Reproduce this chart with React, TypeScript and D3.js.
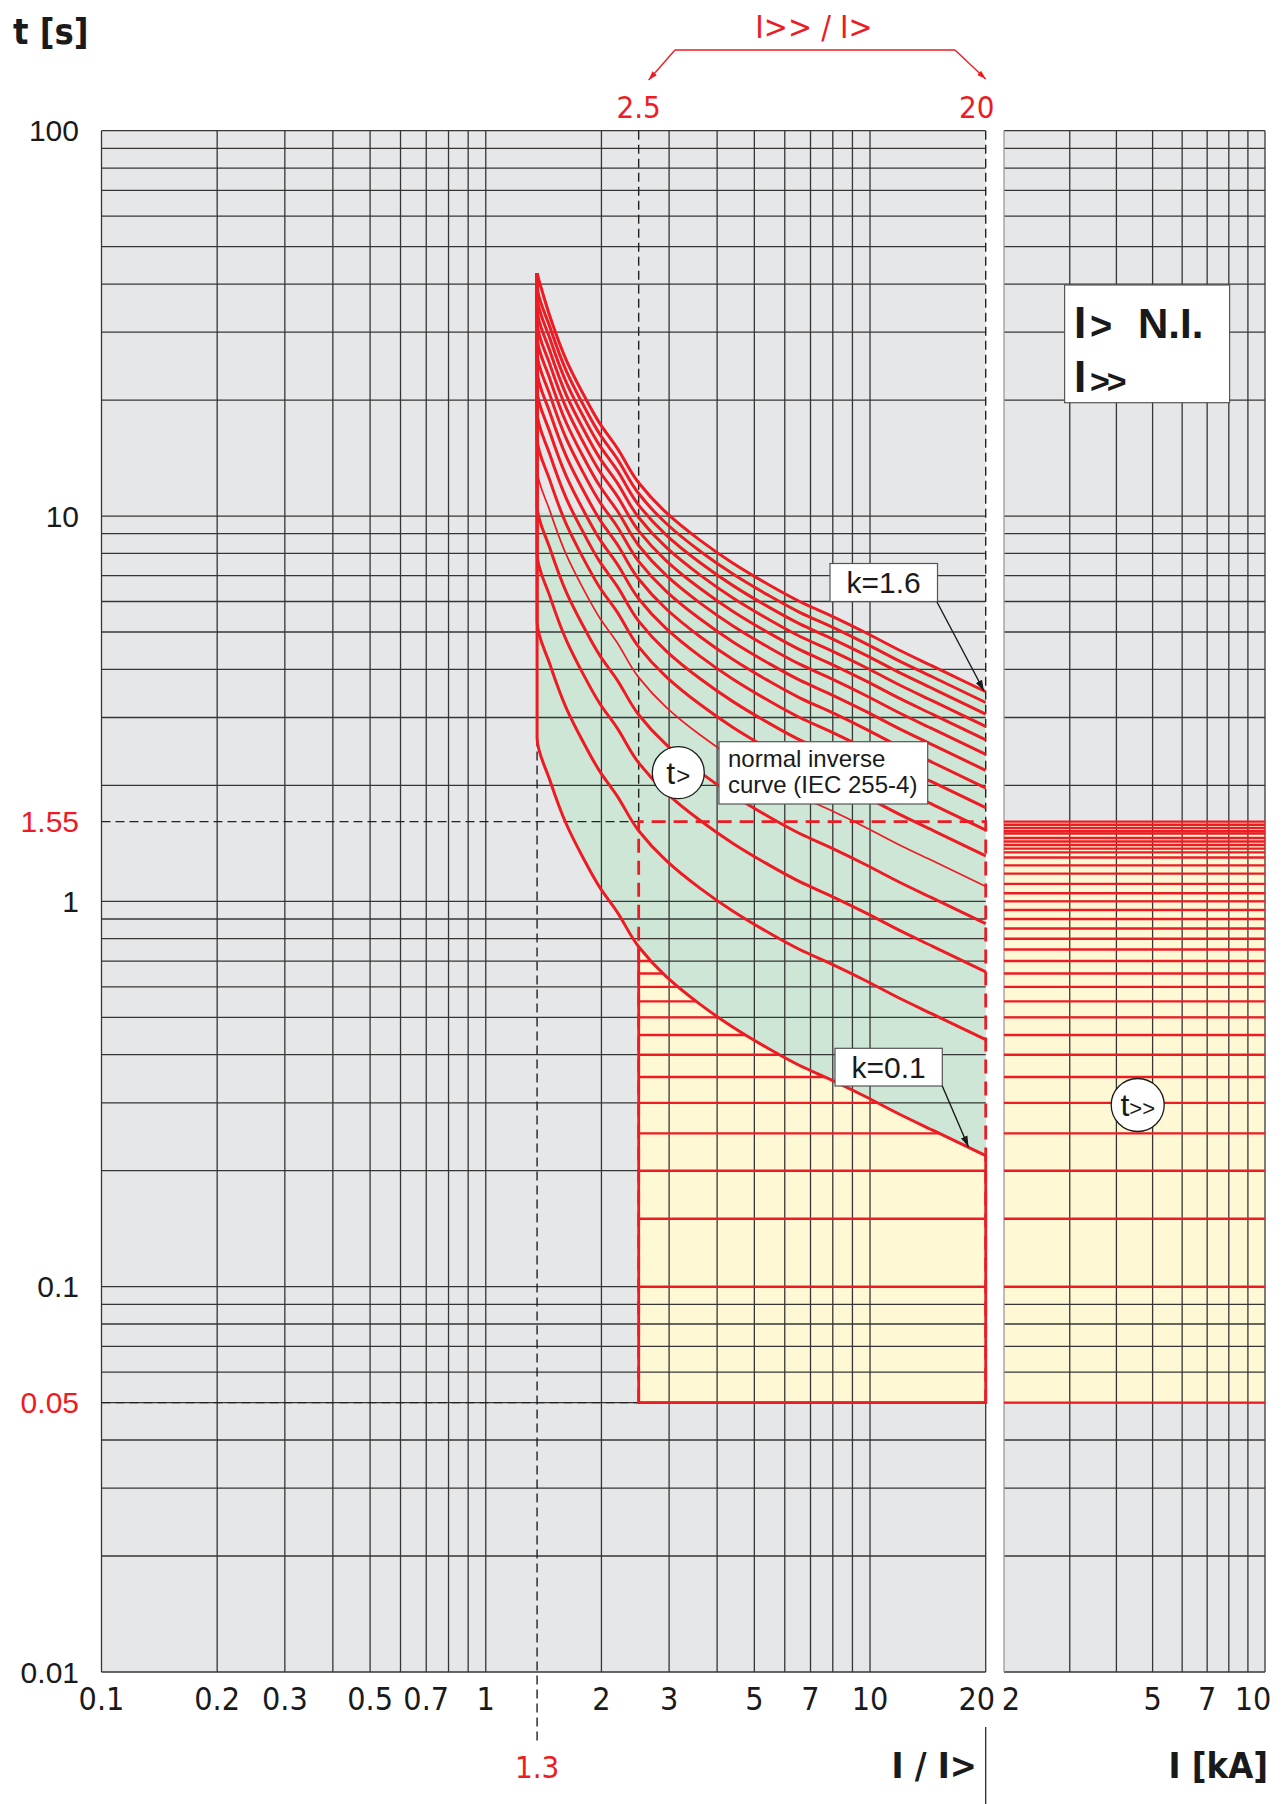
import React from "react";
import * as d3 from "d3";

// ---------- data ----------
const ratioTickValues = [0.1, 0.2, 0.3, 0.5, 0.7, 1, 2, 3, 5, 7, 10, 20];
const ratioTickLabels = ["0.1", "0.2", "0.3", "0.5", "0.7", "1", "2", "3", "5", "7", "10", "20"];
const currentTickValues = [2, 5, 7, 10];
const currentTickLabels = ["2", "5", "7", "10"];
const timeTickValues = [100, 10, 1, 0.1, 0.01];
const timeTickLabels = ["100", "10", "1", "0.1", "0.01"];

// time multiplier settings of the normal inverse curves
const kValues = [0.1, 0.2, 0.3, 0.4, 0.5, 0.6, 0.7, 0.8, 0.9, 1.0, 1.1, 1.2, 1.3, 1.4, 1.5, 1.6];
const kThin = [0.5];
const kTop = 1.6;

// k = 1.6 curve (I/I>, t [s])
const curveRatio = [1.36, 1.47, 1.62, 1.79, 1.98, 2.19, 2.5, 2.95, 3.6, 4.4, 5.37, 6.56, 8.0, 9.78, 11.9, 14.6, 20];
const curveTimeTop = [42.6, 32.9, 25.4, 20.8, 17.4, 15.1, 12.2, 10.2, 8.67, 7.54, 6.69, 6.0, 5.48, 4.97, 4.49, 4.07, 3.5];

// t>> definite time settings (s)
const highTimes = [
  0.05, 0.1, 0.15, 0.2, 0.25, 0.3, 0.35, 0.4, 0.45, 0.5, 0.55, 0.6, 0.65, 0.7, 0.75, 0.8, 0.85, 0.9, 0.95, 1.0,
  1.05, 1.11, 1.18, 1.24, 1.3, 1.34, 1.37, 1.4, 1.43, 1.46, 1.5, 1.52, 1.55, 1.58, 1.61,
];
const highRatioRange = [2.5, 20];
const highRatioLabels = ["2.5", "20"];
const highTimeRange = [0.05, 1.61];
const highTimeLabels = ["0.05", "1.55"];
const pickupRatio = 1.36;
const pickupLabel = "1.3";
const greenTopTime = 10.2;

// ---------- styling ----------
const RED = "#ed1c24";
const GRID = "#363636";
const BG = "#e6e7e9";
const GREEN = "#cee6d6";
const YELLOW = "#fef9d4";
const INK = "#1a1a1a";
const SANS = "'Liberation Sans', Arial, Helvetica, sans-serif";
const NARROW = "'Liberation Sans Narrow', 'Arial Narrow', 'DejaVu Sans Condensed', 'Liberation Sans', sans-serif";

export default function App() {
  const xL = d3.scaleLog().domain([0.1, 20]).range([101.5, 985.7]);
  const xR = d3.scaleLog().domain([2, 10]).range([1004, 1265]);
  const y = d3.scaleLog().domain([0.01, 100]).range([1672, 130.7]);

  const X0 = xL(0.1);
  const X1 = xL(20);
  const R0 = xR(2);
  const R1 = xR(10);
  const Y0 = y(100);
  const Y1 = y(0.01);

  const lineGen = d3
    .line<[number, number]>()
    .x((d) => xL(d[0]))
    .y((d) => y(d[1]))
    .curve(d3.curveMonotoneY);

  const curvePoints = (k: number): [number, number][] => {
    const pts: [number, number][] = [[curveRatio[0], curveTimeTop[0]]];
    curveRatio.forEach((r, i) => {
      const t = (curveTimeTop[i] * k) / kTop;
      const last = pts[pts.length - 1];
      if (r === last[0] && Math.abs(t - last[1]) < 1e-9) return;
      pts.push([r, t]);
    });
    return pts;
  };

  const regionBelow = (k: number) => {
    const pts = curvePoints(k);
    const end = pts[pts.length - 1];
    return `${lineGen(pts)}L${X1 + 6},${y(end[1])}L${X1 + 6},${Y1}L${xL(curveRatio[0])},${Y1}Z`;
  };

  const kMin = kValues[0];
  const belowTop = regionBelow(kTop);
  const belowMin = regionBelow(kMin);
  const minStart = curvePoints(kMin)[1];

  const xGrid = xL.ticks();
  const rGrid = xR.ticks();
  const tGrid = y.ticks();

  const hx0 = xL(highRatioRange[0]);
  const hx1 = xL(highRatioRange[1]);
  const hy0 = y(highTimeRange[0]);
  const hy1 = y(highTimeRange[1]);

  return (
    <>
      <style>{"body{margin:0;background:#fff}"}</style>
      <svg width={1288} height={1804} viewBox="0 0 1288 1804" style={{ display: "block" }}>
        <defs>
          <clipPath id="clipGreen">
            <rect x={X0} y={y(greenTopTime)} width={X1 - X0} height={Y1 - y(greenTopTime)} />
          </clipPath>
          <clipPath id="clipBelowMin">
            <path d={belowMin} />
          </clipPath>
          <marker id="arrBlack" viewBox="0 0 10 10" refX="10" refY="5" markerWidth="11" markerHeight="11" markerUnits="userSpaceOnUse" orient="auto">
            <path d="M0,1.8 L10,5 L0,8.2 Z" fill={INK} />
          </marker>
          <marker id="arrRed" viewBox="0 0 10 10" refX="10" refY="5" markerWidth="9" markerHeight="9" markerUnits="userSpaceOnUse" orient="auto">
            <path d="M0,1.8 L10,5 L0,8.2 Z" fill={RED} />
          </marker>
        </defs>

        {/* panel backgrounds */}
        <rect x={X0} y={Y0} width={X1 - X0} height={Y1 - Y0} fill={BG} />
        <rect x={R0} y={Y0} width={R1 - R0} height={Y1 - Y0} fill={BG} />

        {/* green band between k=0.1 and k=1.6 */}
        <path d={`${belowTop} ${belowMin}`} fill={GREEN} fillRule="evenodd" clipPath="url(#clipGreen)" />

        {/* yellow t>> areas */}
        <rect x={hx0} y={hy1} width={hx1 - hx0} height={hy0 - hy1} fill={YELLOW} clipPath="url(#clipBelowMin)" />
        <rect x={R0} y={hy1} width={R1 - R0} height={hy0 - hy1} fill={YELLOW} />

        {/* grid */}
        <g stroke={GRID} strokeWidth={1.3}>
          {tGrid.map((t, i) => (
            <g key={"h" + i}>
              <line x1={X0} x2={X1} y1={y(t)} y2={y(t)} />
              <line x1={R0} x2={R1} y1={y(t)} y2={y(t)} />
            </g>
          ))}
          {xGrid
            .filter((v) => v < 20)
            .map((v, i) => (
              <line key={"v" + i} x1={xL(v)} x2={xL(v)} y1={Y0} y2={Y1} />
            ))}
          <line x1={X1} x2={X1} y1={hy0} y2={Y1} />
          {rGrid.map((v, i) => (
            <line key={"r" + i} x1={xR(v)} x2={xR(v)} y1={Y0} y2={Y1} stroke={i === 0 ? "#9a9a9a" : GRID} />
          ))}
        </g>

        {/* black dashed guides */}
        <g stroke="#222" strokeWidth={1.4} strokeDasharray="9,5" fill="none">
          <line x1={hx0} x2={hx0} y1={Y0} y2={hy1} />
          <line x1={hx1} x2={hx1} y1={Y0} y2={hy1} />
          <line x1={X0} x2={hx0} y1={hy1} y2={hy1} />
          <line x1={X0} x2={hx0} y1={hy0} y2={hy0} />
          <line x1={xL(pickupRatio)} x2={xL(pickupRatio)} y1={y(minStart[1])} y2={1744} />
        </g>

        {/* red dashed outline of the t>> range */}
        <path
          d={`M${hx0},${hy0}V${hy1}H${hx1}V${hy0}`}
          fill="none"
          stroke={RED}
          strokeWidth={2.8}
          strokeDasharray="14,8"
        />

        {/* t>> setting lines */}
        <g stroke={RED} strokeWidth={2.4}>
          <g clipPath="url(#clipBelowMin)">
            {highTimes.map((t, i) => (
              <line key={"hl" + i} x1={hx0} x2={hx1} y1={y(t)} y2={y(t)} />
            ))}
            <path d={`M${hx0},${hy1}V${hy0}H${hx1}V${hy1}`} fill="none" strokeWidth={2.8} />
          </g>
          {highTimes.map((t, i) => (
            <line key={"hr" + i} x1={R0} x2={R1} y1={y(t)} y2={y(t)} />
          ))}
        </g>

        {/* normal inverse curves */}
        <g fill="none" stroke={RED} strokeLinejoin="round">
          {kValues.map((k) => (
            <path key={"k" + k} d={lineGen(curvePoints(k)) || ""} strokeWidth={kThin.includes(k) ? 1.7 : 3} />
          ))}
        </g>

        {/* y tick labels */}
        <g fontFamily={SANS} fontSize={30} fill={INK} textAnchor="end">
          {timeTickValues.map((t, i) => (
            <text key={"yt" + i} x={79} y={y(t) + 10.5}>
              {timeTickLabels[i]}
            </text>
          ))}
        </g>
        <g fontFamily={SANS} fontSize={30} fill={RED} textAnchor="end">
          <text x={79} y={hy1 + 10.5}>{highTimeLabels[1]}</text>
          <text x={79} y={hy0 + 10.5}>{highTimeLabels[0]}</text>
        </g>

        {/* x tick labels */}
        <g fontFamily={NARROW} fontSize={32} fill={INK} textAnchor="middle">
          {ratioTickValues.map((v, i) => (
            <text key={"xt" + i} x={xL(v) + (v === 20 ? -9 : 0)} y={1710}>
              {ratioTickLabels[i]}
            </text>
          ))}
          {currentTickValues.map((v, i) => (
            <text key={"rt" + i} x={xR(v) + (v === 2 ? 7 : v === 10 ? -12 : 0)} y={1710}>
              {currentTickLabels[i]}
            </text>
          ))}
        </g>

        {/* axis titles */}
        <text x={13} y={44} fontFamily={NARROW} fontWeight="bold" fontSize={36} fill={INK}>
          t [s]
        </text>
        <text x={977} y={1778} fontFamily={NARROW} fontWeight="bold" fontSize={36} fill={INK} textAnchor="end">
          I / I&gt;
        </text>
        <text x={1268} y={1778} fontFamily={NARROW} fontWeight="bold" fontSize={36} fill={INK} textAnchor="end">
          I [kA]
        </text>
        <line x1={X1} x2={X1} y1={1727} y2={1804} stroke={INK} strokeWidth={1.2} />

        {/* red markers */}
        <text x={xL(pickupRatio)} y={1778} fontFamily={NARROW} fontSize={31} fill={RED} textAnchor="middle">
          {pickupLabel}
        </text>
        <text x={xL(highRatioRange[0])} y={118} fontFamily={NARROW} fontSize={31} fill={RED} textAnchor="middle">
          {highRatioLabels[0]}
        </text>
        <text x={xL(highRatioRange[1]) - 9} y={118} fontFamily={NARROW} fontSize={31} fill={RED} textAnchor="middle">
          {highRatioLabels[1]}
        </text>
        <text x={814} y={38} fontFamily={NARROW} fontSize={32} fill={RED} textAnchor="middle">
          I&gt;&gt; / I&gt;
        </text>
        <path d={`M675,50L${xL(highRatioRange[0]) + 10},80`} stroke={RED} strokeWidth={1.4} fill="none" markerEnd="url(#arrRed)" />
        <path d="M675,50H955" stroke={RED} strokeWidth={1.4} fill="none" />
        <path d={`M955,50L${xL(highRatioRange[1])},79`} stroke={RED} strokeWidth={1.4} fill="none" markerEnd="url(#arrRed)" />

        {/* k=1.6 label */}
        <rect x={830} y={563.5} width={107.5} height={38} fill="#fff" stroke="#555" strokeWidth={1.2} />
        <text x={883.7} y={593} fontFamily={SANS} fontSize={30} fill={INK} textAnchor="middle">
          k=1.6
        </text>
        <line x1={937} y1={602} x2={984} y2={691} stroke={INK} strokeWidth={1.4} markerEnd="url(#arrBlack)" />

        {/* k=0.1 label */}
        <rect x={835} y={1048.3} width={107.3} height={37.7} fill="#fff" stroke="#555" strokeWidth={1.2} />
        <text x={888.6} y={1078} fontFamily={SANS} fontSize={30} fill={INK} textAnchor="middle">
          k=0.1
        </text>
        <line x1={942.3} y1={1086} x2={968.5} y2={1147} stroke={INK} strokeWidth={1.4} markerEnd="url(#arrBlack)" />

        {/* normal inverse box */}
        <rect x={719} y={741.7} width={208.7} height={62.3} fill="#fff" stroke="#555" strokeWidth={1.2} />
        <text fontFamily={SANS} fontSize={24} fill={INK}>
          <tspan x={728} y={767}>normal inverse</tspan>
          <tspan x={728} y={793}>curve (IEC 255-4)</tspan>
        </text>

        {/* t> circle */}
        <circle cx={678.3} cy={772.7} r={26} fill="#fff" stroke={INK} strokeWidth={1.3} />
        <text x={678.3} y={784} fontFamily={SANS} fill={INK} textAnchor="middle">
          <tspan fontSize={32}>t</tspan>
          <tspan fontSize={24} dx={1}>&gt;</tspan>
        </text>

        {/* t>> circle */}
        <circle cx={1137.7} cy={1105} r={26.5} fill="#fff" stroke={INK} strokeWidth={1.3} />
        <text x={1137.7} y={1116} fontFamily={SANS} fill={INK} textAnchor="middle">
          <tspan fontSize={32}>t</tspan>
          <tspan fontSize={22} dx={0}>&gt;&gt;</tspan>
        </text>

        {/* I> N.I. / I>> box */}
        <rect x={1064.6} y={285} width={165} height={117.7} fill="#fff" stroke="#555" strokeWidth={1.2} />
        <text fontFamily={SANS} fontWeight="bold" fill={INK}>
          <tspan x={1074} y={338} fontSize={44}>I</tspan>
          <tspan x={1090} y={339} fontSize={38}>&gt;</tspan>
          <tspan x={1138} y={338} fontSize={42}>N.I.</tspan>
        </text>
        <text fontFamily={SANS} fontWeight="bold" fill={INK}>
          <tspan x={1074} y={392} fontSize={44}>I</tspan>
          <tspan x={1090} y={393} fontSize={34} letterSpacing={-3}>&gt;&gt;</tspan>
        </text>
      </svg>
    </>
  );
}
